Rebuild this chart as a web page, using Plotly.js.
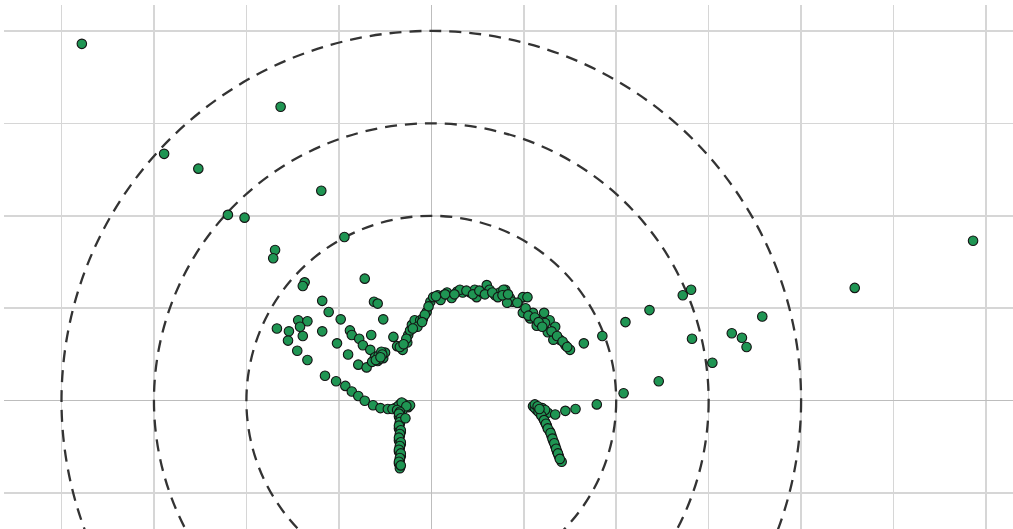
<!DOCTYPE html>
<html>
<head>
<meta charset="utf-8">
<script src="https://cdn.plot.ly/plotly-3.0.1.min.js"></script>
<style>html,body{margin:0;padding:0;background:#fff;}#chart{width:1013px;height:529px;}</style>
</head>
<body>
<div id="chart"></div>
<script>
// Scattered outer points
const scatterX = [-3.78,-1.63,-2.89,-2.52,-1.19,-2.20,-2.02,-0.94,-1.69,-1.71,-0.72,-1.37,-1.39,-0.62,-0.58,-1.18,-1.11,-0.98,-0.52,-1.67,-1.44,-1.34,-1.42,-1.54,-1.39,-1.55,-1.18,-0.88,-0.86,-0.65,-0.78,-0.74,-1.02,-0.66,-1.45,-1.34,-0.90,-0.79,-0.70,-0.61,-0.57,-0.52,-0.58,-0.50,-0.64,-0.54,-0.56,-0.53,-0.60,-0.55];
const scatterY = [3.86,3.18,2.67,2.51,2.27,2.01,1.98,1.77,1.63,1.54,1.32,1.28,1.24,1.07,1.05,1.08,0.96,0.88,0.88,0.78,0.87,0.86,0.80,0.75,0.70,0.65,0.75,0.76,0.71,0.71,0.67,0.60,0.62,0.55,0.54,0.44,0.50,0.39,0.36,0.47,0.49,0.46,0.43,0.52,0.42,0.53,0.45,0.50,0.44,0.47];
// Arch
const archX = [-0.41,-0.37,-0.31,-0.34,-0.26,-0.25,-0.23,-0.21,-0.18,-0.12,-0.09,-0.05,-0.01,0.02,0.07,0.13,0.17,0.22,0.28,0.34,0.42,0.49,0.55,0.60,0.63,0.69,0.74,0.80,0.85,0.88,0.94,0.99,1.04,0.78,0.82,0.93,0.99,1.10,1.18,1.28,1.34,1.26,1.39,1.50,1.23,1.32,1.45,1.07,1.14,1.22,0.31,0.47,0.10,-0.15,
  0.05,0.15,0.25,0.38,0.45,0.52,0.58,0.66,0.72,0.77,0.83,-0.03,-0.07,-0.10,-0.20,-0.27,-0.30,1.02,1.05,1.12,1.16,1.20,1.30,1.36,1.42,1.47];
const archY = [0.69,0.59,0.55,0.58,0.63,0.71,0.76,0.82,0.87,0.87,0.89,0.96,1.07,1.12,1.14,1.14,1.17,1.11,1.18,1.17,1.17,1.12,1.17,1.25,1.20,1.14,1.17,1.20,1.11,1.07,1.06,1.12,1.12,1.20,1.06,1.06,0.95,0.95,0.87,0.87,0.80,0.74,0.66,0.55,0.84,0.66,0.60,0.89,0.81,0.95,1.20,1.20,1.09,0.80,
  1.13,1.15,1.15,1.19,1.15,1.19,1.15,1.17,1.12,1.14,1.15,1.02,0.93,0.85,0.78,0.67,0.61,1.00,0.92,0.90,0.85,0.80,0.75,0.70,0.64,0.58];
// Right-hand points
const rightX = [1.65,1.85,2.10,2.36,2.72,2.81,2.82,3.04,3.25,3.36,3.41,3.58,2.46,2.08,1.79,1.56,1.45,4.58,5.86];
const rightY = [0.62,0.70,0.85,0.98,1.14,1.20,0.67,0.41,0.73,0.68,0.58,0.91,0.21,0.08,-0.04,-0.09,-0.11,1.22,1.73];
// Lower-left arc and left stalk
const leftStalkX = [-1.15,-1.03,-0.93,-0.86,-0.79,-0.72,-0.63,-0.55,-0.47,-0.39,-0.34,-0.29,-0.25,-0.31,-0.23,-0.36,-0.32,-0.27,-0.42,-0.37,
  -0.34,-0.35,-0.33,-0.34,-0.35,-0.33,-0.34,-0.35,-0.33,-0.34,-0.35,-0.33,-0.34,-0.35,-0.34,
  -0.35,-0.33,-0.34,-0.35,-0.33,-0.34,-0.35,-0.33,-0.34,-0.35,-0.33,-0.34,-0.35,-0.33,-0.28];
const leftStalkY = [0.27,0.21,0.16,0.10,0.05,0.00,-0.05,-0.08,-0.09,-0.08,-0.04,-0.04,-0.07,-0.10,-0.05,-0.06,-0.02,-0.06,-0.09,-0.10,
  -0.12,-0.17,-0.21,-0.25,-0.30,-0.34,-0.38,-0.43,-0.47,-0.51,-0.55,-0.60,-0.64,-0.68,-0.73,
  -0.14,-0.19,-0.23,-0.27,-0.32,-0.36,-0.40,-0.45,-0.49,-0.53,-0.57,-0.62,-0.66,-0.70,-0.19];
// Right stalk
const rightStalkX = [1.10,1.14,1.18,1.21,1.23,1.25,1.28,1.30,1.32,1.34,1.36,1.38,1.41,1.20,1.26,1.34,1.23,
  1.12,1.16,1.19,1.22,1.24,1.26,1.29,1.31,1.33,1.35,1.37,1.39,1.12,1.15,1.17];
const rightStalkY = [-0.06,-0.10,-0.14,-0.19,-0.23,-0.27,-0.33,-0.38,-0.44,-0.49,-0.55,-0.60,-0.66,-0.08,-0.13,-0.15,-0.10,
  -0.08,-0.12,-0.16,-0.21,-0.25,-0.30,-0.35,-0.41,-0.46,-0.52,-0.57,-0.63,-0.04,-0.06,-0.09];
// Dashed reference circles
const ringRadii = [2, 3, 4];

const marker = {size: 9.5, color: '#1f9553', line: {color: '#141414', width: 1.1}};
const groups = [[scatterX, scatterY],[archX, archY],[rightX, rightY],[leftStalkX, leftStalkY],[rightStalkX, rightStalkY]];
const traces = groups.map(g => ({x: g[0], y: g[1], type: 'scatter', mode: 'markers', marker: marker, hoverinfo: 'skip', showlegend: false}));

const shapes = ringRadii.map(r => ({
  type: 'circle', xref: 'x', yref: 'y', x0: -r, x1: r, y0: -r, y1: r,
  line: {color: '#333333', width: 2.3, dash: '12px,8px'}, layer: 'between'
}));

const axisCommon = {dtick: 1, tick0: 0, showticklabels: false, ticks: '', showline: false,
  gridcolor: '#d6d6d6', gridwidth: 1.5, zeroline: true, zerolinecolor: '#bdbdbd', zerolinewidth: 1.5, fixedrange: true};

const layout = {
  width: 1013, height: 529,
  margin: {l: 4, r: 0, t: 5, b: 0, pad: 0},
  paper_bgcolor: '#ffffff', plot_bgcolor: '#ffffff',
  xaxis: Object.assign({range: [-4.622, 6.292]}, axisCommon),
  yaxis: Object.assign({range: [-1.388, 4.280]}, axisCommon),
  shapes: shapes,
  showlegend: false
};
Plotly.newPlot('chart', traces, layout, {displayModeBar: false, staticPlot: true});
</script>
</body>
</html>
